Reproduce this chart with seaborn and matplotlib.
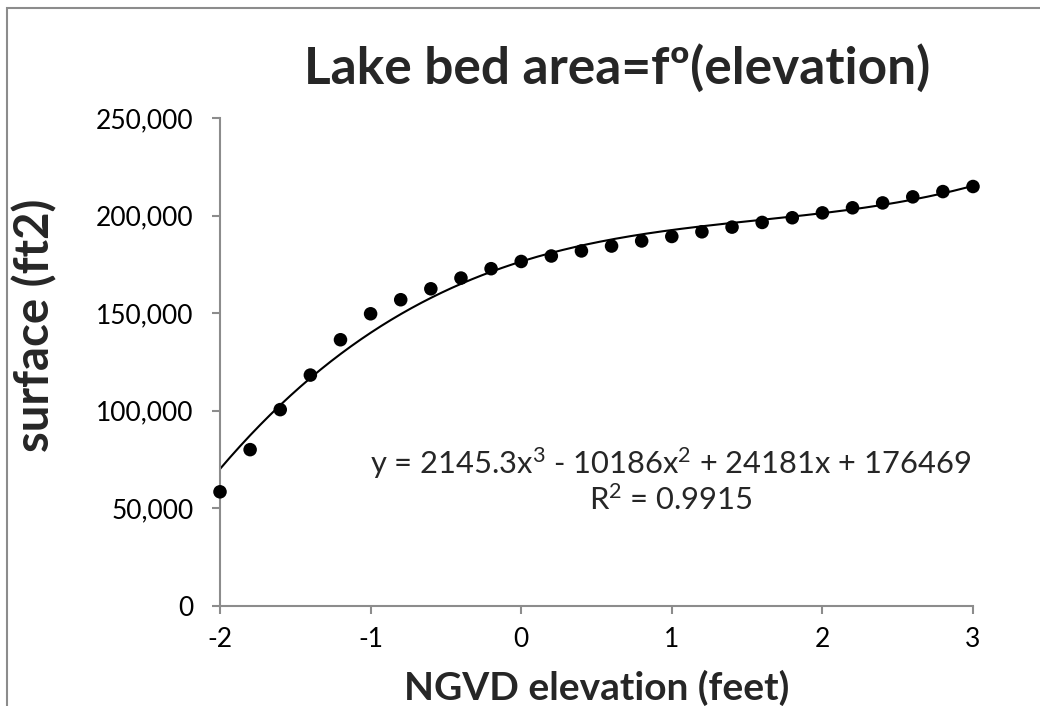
import numpy as np
import pandas as pd
import matplotlib
matplotlib.use("Agg")
import matplotlib.pyplot as plt
from matplotlib.patches import Rectangle
from matplotlib.ticker import FuncFormatter
import seaborn as sns

# Surveyed lake bed area at each NGVD elevation step
elevation = [-2.0, -1.8, -1.6, -1.4, -1.2, -1.0, -0.8, -0.6, -0.4, -0.2,
             0.0, 0.2, 0.4, 0.6, 0.8, 1.0, 1.2, 1.4, 1.6, 1.8,
             2.0, 2.2, 2.4, 2.6, 2.8, 3.0]
surface = [58500, 80100, 100600, 118300, 136400, 149700, 156900, 162500, 168000, 172800,
           176500, 179300, 181900, 184400, 187000, 189300, 191700, 194100, 196500, 198900,
           201400, 204000, 206500, 209600, 212300, 214900]

# Cubic trendline coefficients (highest power first) and fit quality
trend_coeffs = [2145.3, -10186, 24181, 176469]
r_squared = 0.9915

x_ticks = [-2, -1, 0, 1, 2, 3]
y_ticks = [0, 50000, 100000, 150000, 200000, 250000]

sns.set_theme(style="white")
plt.rcParams["font.family"] = ["Lato", "DejaVu Sans"]
plt.rcParams["axes.unicode_minus"] = False
plt.rcParams["mathtext.fontset"] = "custom"
plt.rcParams["mathtext.rm"] = "Lato"
plt.rcParams["mathtext.it"] = "Lato:italic"
plt.rcParams["mathtext.bf"] = "Lato:bold"

AXIS_GREY = "#8c8c8c"

fig = plt.figure(figsize=(10.4, 7.06), dpi=100)
ax = fig.add_axes([220 / 1040, 1 - 606 / 706, (973 - 220) / 1040, (606 - 118) / 706])

points = pd.DataFrame({"elevation": elevation, "surface": surface})
x_fit = np.linspace(min(elevation), max(elevation), 300)
trend = pd.DataFrame({"elevation": x_fit, "surface": np.polyval(trend_coeffs, x_fit)})

sns.lineplot(data=trend, x="elevation", y="surface", ax=ax,
             color="black", linewidth=1.5, zorder=2)
sns.scatterplot(data=points, x="elevation", y="surface", ax=ax,
                color="black", s=95, edgecolor="none", zorder=3, clip_on=False)

ax.set_xlim(-2, 3)
ax.set_ylim(0, 250000)
ax.set_xticks(x_ticks)
ax.set_yticks(y_ticks)
ax.yaxis.set_major_formatter(FuncFormatter(lambda v, _: f"{v:,.0f}"))

for side in ("top", "right"):
    ax.spines[side].set_visible(False)
for side in ("left", "bottom"):
    ax.spines[side].set_color(AXIS_GREY)
    ax.spines[side].set_linewidth(1.5)
ax.tick_params(axis="both", which="major", direction="out", length=6, width=1.5,
               color=AXIS_GREY, labelsize=19, labelcolor="black",
               left=True, bottom=True)
ax.tick_params(axis="y", pad=13)
ax.tick_params(axis="x", pad=9)

ax.set_xlabel("NGVD elevation (feet)", fontsize=28, fontweight="bold")
ax.set_ylabel("surface (ft2)", fontsize=34, fontweight="bold")
ax.xaxis.set_label_coords(0.5007, -0.168)
ax.yaxis.set_label_coords(-0.2457, 0.576)
ax.xaxis.label.set_va("center")
ax.yaxis.label.set_va("center")

fig.text(617 / 1040, 1 - 68 / 706, "Lake bed area=fº(elevation)",
         ha="center", va="center", fontsize=37, fontweight="bold")

c3, c2, c1, c0 = trend_coeffs
equation = (f"y = {c3:g}x$^{{3}}$ - {abs(c2):g}x$^{{2}}$ + {c1:g}x + {c0:g}\n"
            f"R$^{{2}}$ = {r_squared:g}")
ax.text(0.99, 64500, equation, ha="center", va="center",
        multialignment="center", fontsize=22.2, linespacing=1.15)

# Chart area border
fig.patches.append(Rectangle((7 / 1040, -0.05), 1.2, 1 - 8 / 706 + 0.05,
                             transform=fig.transFigure, fill=False,
                             edgecolor=AXIS_GREY, linewidth=1.5))

fig.savefig("out.png", dpi=100)
